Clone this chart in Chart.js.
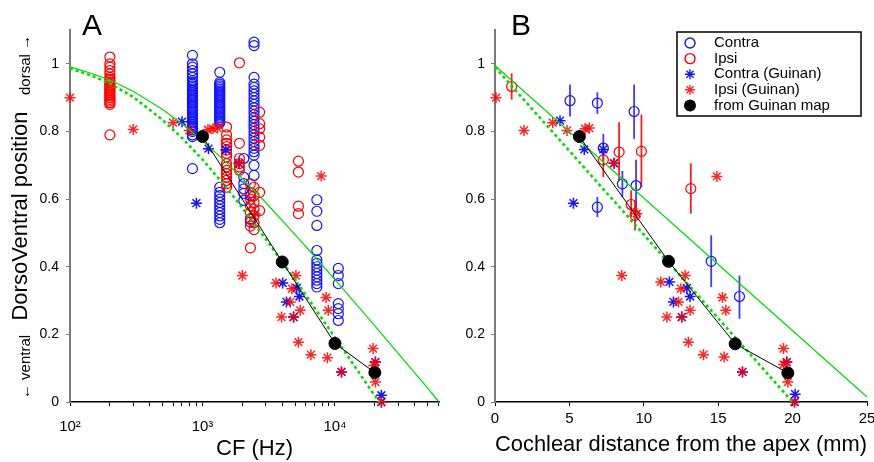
<!DOCTYPE html>
<html>
<head>
<meta charset="utf-8">
<script src="https://cdn.jsdelivr.net/npm/chart.js@4"></script>
<style>
  html, body { margin: 0; padding: 0; background: #fff; }
  #wrap { position: relative; width: 874px; height: 462px; }
  #chartA { position: absolute; left: 0; top: 0; }
  #chartB { position: absolute; left: 446px; top: 0; }
</style>
</head>
<body>
<div id="wrap">
  <canvas id="chartA" width="446" height="462"></canvas>
  <canvas id="chartB" width="428" height="462"></canvas>
</div>
<script>
const FONT = '"Liberation Sans", Arial, Helvetica, sans-serif';
const BLUE = 'rgb(20, 20, 255)';
const RED = 'rgb(255, 0, 0)';
const GREEN = 'rgb(0, 220, 0)';

// ---------- Panel A : position vs CF (Hz) ----------
// columns of single units: one CF per column, list of positions
const contraColCF = [840, 1350, 1350, 2050, 2300, 2450, 7300, 10600];
const contraColPos = [
  [1.025, 1.0, 0.99, 0.98, 0.97, 0.96, 0.95, 0.945, 0.94, 0.935, 0.93, 0.925, 0.92, 0.915, 0.91, 0.905, 0.90, 0.895, 0.89, 0.885, 0.88, 0.875, 0.87, 0.865, 0.86, 0.855, 0.85, 0.845, 0.84, 0.835, 0.83, 0.825, 0.82, 0.815, 0.81, 0.805, 0.80, 0.79, 0.785, 0.69],
  [0.975, 0.945, 0.94, 0.935, 0.93, 0.925, 0.92, 0.915, 0.91, 0.905, 0.90, 0.895, 0.89, 0.885, 0.88, 0.875, 0.87, 0.865, 0.86, 0.855, 0.85, 0.845, 0.84, 0.835, 0.83, 0.825],
  [0.635, 0.62, 0.61, 0.60, 0.59, 0.58, 0.57, 0.56, 0.55, 0.54, 0.53],
  [0.72, 0.665, 0.646, 0.63, 0.617, 0.596],
  [0.61, 0.542, 0.532],
  [1.064, 1.054, 0.96, 0.94, 0.93, 0.92, 0.91, 0.90, 0.89, 0.88, 0.87, 0.86, 0.85, 0.84, 0.83, 0.82, 0.81, 0.80, 0.79, 0.78, 0.77, 0.76, 0.75, 0.74, 0.73, 0.70, 0.67],
  [0.598, 0.564, 0.522, 0.448, 0.42, 0.41, 0.40, 0.39, 0.38, 0.37, 0.36, 0.35, 0.34],
  [0.395, 0.374, 0.35, 0.291, 0.276, 0.261, 0.241]
];
const ipsiColCF = [200, 1520, 1900, 2300, 2450, 2700, 5300];
const ipsiColPos = [
  [1.02, 1.0, 0.99, 0.98, 0.97, 0.96, 0.955, 0.95, 0.945, 0.94, 0.935, 0.93, 0.925, 0.92, 0.915, 0.91, 0.905, 0.90, 0.895, 0.89, 0.885, 0.88, 0.79],
  [0.813, 0.79, 0.775, 0.765, 0.755, 0.745, 0.735, 0.725, 0.705, 0.695, 0.685, 0.675, 0.665, 0.655, 0.645, 0.635],
  [1.003, 0.765, 0.72, 0.705, 0.695, 0.685],
  [0.645, 0.62, 0.60, 0.58, 0.56, 0.54, 0.52, 0.456],
  [0.635, 0.61, 0.59, 0.57, 0.55, 0.53, 0.51],
  [0.857, 0.823, 0.808, 0.783, 0.759, 0.62, 0.566],
  [0.712, 0.68, 0.579, 0.557]
];

// Guinan data (asterisks)
const gIpsiCF  = [100, 300, 600, 795, 1100, 1200, 1300, 1885, 2000, 2500, 3590, 3950, 4730, 4600, 4870, 5070, 5470, 5300, 6580, 7870, 8570, 8900, 8770, 11200, 19400, 20200, 19600, 20200, 22400];
const gIpsiPos = [0.90, 0.806, 0.826, 0.803, 0.805, 0.808, 0.81, 0.706, 0.374, 0.557, 0.352, 0.251, 0.335, 0.296, 0.251, 0.374, 0.271, 0.177, 0.140, 0.668, 0.309, 0.271, 0.131, 0.089, 0.158, 0.118, 0.108, 0.059, 0.0];
const gContraCF  = [700, 900, 1110, 1500, 1885, 4030, 4300, 5150, 5390, 4870, 11200, 20200, 22400, 22400];
const gContraPos = [0.829, 0.588, 0.749, 0.746, 0.706, 0.352, 0.296, 0.337, 0.312, 0.251, 0.089, 0.118, 0.020, 0.0];

// from Guinan map
const mapCF  = [1000, 4000, 10000, 20000];
const mapPos = [0.785, 0.414, 0.173, 0.087];

// green reference curves
const fitCF   = [100, 150, 200, 300, 500, 700, 1000, 1500, 2000, 3000, 5000, 7000, 10000, 15000, 20000, 30000, 40000, 50000, 61000];
const fitPos  = [0.991, 0.970, 0.952, 0.919, 0.865, 0.823, 0.773, 0.710, 0.661, 0.590, 0.495, 0.431, 0.362, 0.282, 0.225, 0.144, 0.086, 0.042, 0.0];
const fit2CF  = [100, 150, 200, 300, 500, 700, 1000, 1500, 2000, 3000, 5000, 7000, 10000, 15000, 20000, 21800];
const fit2Pos = [0.987, 0.963, 0.942, 0.902, 0.834, 0.781, 0.717, 0.636, 0.574, 0.482, 0.361, 0.279, 0.191, 0.090, 0.018, 0.0];

// ---------- Panel B : position vs cochlear distance (mm) ----------
const contraDist = [5.04, 6.88, 9.35, 7.28, 8.56, 9.48, 6.88, 14.53, 16.43];
const contraMean = [0.891, 0.884, 0.859, 0.751, 0.645, 0.640, 0.576, 0.416, 0.312];
const contraLo   = [0.844, 0.852, 0.778, 0.714, 0.606, 0.560, 0.547, 0.340, 0.246];
const contraHi   = [0.939, 0.916, 0.939, 0.793, 0.683, 0.716, 0.606, 0.493, 0.374];

const ipsiDist = [1.12, 7.28, 8.34, 9.84, 9.15, 9.41, 13.16];
const ipsiMean = [0.933, 0.716, 0.739, 0.741, 0.584, 0.552, 0.631];
const ipsiLo   = [0.894, 0.665, 0.655, 0.635, 0.547, 0.507, 0.557];
const ipsiHi   = [0.972, 0.745, 0.827, 0.850, 0.626, 0.596, 0.706];

const gIpsiDist = [0.07, 1.95, 3.88, 4.84, 6.05, 6.34, 8.0, 9.53, 14.91, 8.52, 11.14, 12.78, 12.49, 12.33, 13.11, 11.55, 12.55, 13.0, 14.01, 15.4, 15.29, 15.51, 16.63, 19.39, 19.39, 19.61, 19.68, 20.13];
const gIpsiPosB = [0.90, 0.803, 0.826, 0.803, 0.808, 0.81, 0.706, 0.557, 0.667, 0.374, 0.355, 0.374, 0.335, 0.296, 0.271, 0.251, 0.251, 0.177, 0.140, 0.133, 0.309, 0.271, 0.089, 0.158, 0.111, 0.118, 0.059, 0.0];
const gContraDist = [4.37, 5.27, 6.0, 7.28, 8.0, 11.72, 11.99, 12.89, 13.11, 12.55, 16.63, 19.61, 20.17, 20.13];
const gContraPosB = [0.832, 0.588, 0.747, 0.747, 0.706, 0.355, 0.296, 0.337, 0.312, 0.251, 0.089, 0.118, 0.023, 0.0];

const mapDist = [5.67, 11.66, 16.14, 19.68];
const mapPosB = [0.785, 0.416, 0.172, 0.086];

const fitDist  = [0, 25];
const fitPosB  = [0.995, 0.015];
const fit2Dist = [0, 20];
const fit2PosB = [0.99, 0.0];

const yTicks = [0, 0.2, 0.4, 0.6, 0.8, 1];

// ---------- helpers ----------
function columns(xs, cols) {
  const pts = [];
  cols.forEach((vals, i) => vals.forEach(v => pts.push({x: xs[i], y: v})));
  return pts;
}
function pairs(xs, ys) {
  return xs.map((x, i) => ({x: x, y: ys[i]}));
}
function circles(label, color, data, order) {
  return {label, data, order, clip: false, showLine: false,
    pointStyle: 'circle', pointRadius: 5, pointBorderWidth: 1.2,
    pointBorderColor: color, pointBackgroundColor: 'rgba(0,0,0,0)', legendSym: 'circle', legendColor: color};
}
function stars(label, color, data, order) {
  return {label, data, order, clip: false, showLine: false,
    pointStyle: 'star', pointRadius: 5.5, pointBorderWidth: 1.5,
    pointBorderColor: color, pointBackgroundColor: color, legendSym: 'star', legendColor: color};
}
function mapDots(data) {
  return {label: 'from Guinan map', data, order: 0, clip: false, showLine: true,
    borderColor: '#000', borderWidth: 1, pointStyle: 'circle', pointRadius: 6,
    pointBackgroundColor: '#000', pointBorderColor: '#000', legendSym: 'dot', legendColor: '#000'};
}
function curve(data, dashed, order) {
  return {data, order, clip: false, showLine: true, pointRadius: 0,
    borderColor: GREEN, borderWidth: dashed ? 2.6 : 1.2, borderDash: dashed ? [3, 3] : []};
}
function posLabel(v) {
  const k = Math.round(v * 10) / 10;
  return yTicks.some(t => Math.abs(t - v) < 1e-6) ? String(k) : null;
}
const sup = {2: '\u00b2', 3: '\u00b3', 4: '\u2074'};
function cfLabel(v) {
  const e = Math.log10(v);
  const r = Math.round(e);
  if (Math.abs(e - r) < 1e-9) return '10' + (sup[r] || r);
  const m = v / Math.pow(10, Math.floor(e));
  return Math.abs(m - Math.round(m)) < 1e-9 ? '' : null;
}
function fixX(s) {
  s.height = 60;
  s.paddingLeft = 0;
  s.paddingRight = 0;
}

function yScale(width, withTitle) {
  return {
    min: 0, max: 1.1,
    border: {color: '#7a7a7a', width: 2},
    grid: {drawOnChartArea: false, tickLength: 4, color: '#7a7a7a'},
    ticks: {stepSize: 0.2, padding: withTitle ? 7 : 6, color: '#000',
      font: {family: FONT, size: 14}, callback: posLabel, autoSkip: false},
    title: {display: withTitle, text: 'DorsoVentral position', color: '#000',
      font: {family: FONT, size: 22}, padding: {top: 8, bottom: 0}},
    afterFit: s => { s.width = width; s.paddingTop = 0; s.paddingBottom = 0; }
  };
}

// panel letter and side notes
const annotate = {
  id: 'annotate',
  afterDraw(chart, args, opts) {
    const ctx = chart.ctx;
    ctx.save();
    ctx.fillStyle = '#000';
    ctx.font = '30px ' + FONT;
    ctx.textAlign = 'left';
    ctx.textBaseline = 'alphabetic';
    ctx.fillText(opts.letter, opts.letterX, 35);
    if (opts.sides) {
      ctx.font = '15px ' + FONT;
      ctx.textAlign = 'center';
      [['dorsal \u2192', 65], ['\u2190 ventral', 367]].forEach(([t, y]) => {
        ctx.save();
        ctx.translate(30, y);
        ctx.rotate(-Math.PI / 2);
        ctx.fillText(t, 0, 0);
        ctx.restore();
      });
    }
    ctx.restore();
  }
};

const errorBars = {
  id: 'errorBars',
  beforeDatasetsDraw(chart) {
    const {ctx, scales: {x, y}} = chart;
    chart.data.datasets.forEach(ds => {
      if (!ds.errLo) return;
      ctx.save();
      ctx.strokeStyle = ds.errColor;
      ctx.lineWidth = 1.8;
      ds.data.forEach((p, i) => {
        const px = x.getPixelForValue(p.x);
        ctx.beginPath();
        ctx.moveTo(px, y.getPixelForValue(ds.errLo[i]));
        ctx.lineTo(px, y.getPixelForValue(ds.errHi[i]));
        ctx.stroke();
      });
      ctx.restore();
    });
  }
};

const boxLegend = {
  id: 'boxLegend',
  afterDraw(chart) {
    const ctx = chart.ctx;
    const area = chart.chartArea;
    const w = 184, h = 84;
    const left = area.right - 6 - w, top = area.top + 2;
    ctx.save();
    ctx.fillStyle = '#fff';
    ctx.fillRect(left, top, w, h);
    ctx.strokeStyle = '#000';
    ctx.lineWidth = 1.5;
    ctx.strokeRect(left, top, w, h);
    const items = chart.data.datasets.filter(d => d.legendSym)
      .sort((a, b) => a.legendRank - b.legendRank);
    items.forEach((d, i) => {
      const cy = top + 11 + i * 15.6;
      const cx = left + 13;
      ctx.strokeStyle = d.legendColor;
      ctx.fillStyle = d.legendColor;
      ctx.lineWidth = 1.4;
      ctx.beginPath();
      if (d.legendSym === 'circle') {
        ctx.arc(cx, cy, 5, 0, Math.PI * 2);
        ctx.stroke();
      } else if (d.legendSym === 'dot') {
        ctx.arc(cx, cy, 6, 0, Math.PI * 2);
        ctx.fill();
      } else {
        for (let k = 0; k < 4; k++) {
          const a = k * Math.PI / 4;
          ctx.moveTo(cx - 5 * Math.cos(a), cy - 5 * Math.sin(a));
          ctx.lineTo(cx + 5 * Math.cos(a), cy + 5 * Math.sin(a));
        }
        ctx.stroke();
      }
      ctx.fillStyle = '#000';
      ctx.font = '15px ' + FONT;
      ctx.textAlign = 'left';
      ctx.textBaseline = 'middle';
      ctx.fillText(d.label, left + 37, cy);
    });
    ctx.restore();
  }
};

const common = {
  responsive: false,
  animation: false,
  events: [],
  plugins: {legend: {display: false}, tooltip: {enabled: false}}
};

// ---------- chart A ----------
const dsA = [
  mapDots(pairs(mapCF, mapPos)),
  curve(pairs(fitCF, fitPos), false, 1),
  curve(pairs(fit2CF, fit2Pos), true, 2),
  stars('Ipsi (Guinan)', 'rgba(255,0,0,0.85)', pairs(gIpsiCF, gIpsiPos), 3),
  stars('Contra (Guinan)', BLUE, pairs(gContraCF, gContraPos), 4),
  circles('Ipsi', RED, columns(ipsiColCF, ipsiColPos), 5),
  circles('Contra', BLUE, columns(contraColCF, contraColPos), 6)
];

new Chart(document.getElementById('chartA'), {
  type: 'scatter',
  data: {datasets: dsA},
  options: Object.assign({}, common, {
    layout: {padding: {left: 0, top: 30, right: 4, bottom: 0}},
    plugins: Object.assign({}, common.plugins, {annotate: {letter: 'A', letterX: 82, sides: true}}),
    scales: {
      x: {
        type: 'logarithmic', min: 100, max: 61000,
        border: {color: '#000', width: 1.5},
        grid: {drawOnChartArea: false, tickLength: 4, color: '#000'},
        ticks: {autoSkip: false, maxRotation: 0, padding: 12, color: '#000',
          font: {family: FONT, size: 15}, callback: cfLabel},
        title: {display: true, text: 'CF (Hz)', color: '#000',
          font: {family: FONT, size: 22}, padding: {top: 0, bottom: 0}},
        afterFit: fixX
      },
      y: yScale(70, true)
    }
  }),
  plugins: [annotate]
});

// ---------- chart B ----------
const contraB = circles('Contra', BLUE, pairs(contraDist, contraMean), 5);
contraB.errLo = contraLo; contraB.errHi = contraHi; contraB.errColor = 'rgb(60,60,255)';
contraB.legendRank = 0;
const ipsiB = circles('Ipsi', RED, pairs(ipsiDist, ipsiMean), 6);
ipsiB.errLo = ipsiLo; ipsiB.errHi = ipsiHi; ipsiB.errColor = 'rgb(255,30,30)';
ipsiB.legendRank = 1;
const gContraB = stars('Contra (Guinan)', BLUE, pairs(gContraDist, gContraPosB), 4);
gContraB.legendRank = 2;
const gIpsiB = stars('Ipsi (Guinan)', 'rgba(255,0,0,0.85)', pairs(gIpsiDist, gIpsiPosB), 3);
gIpsiB.legendRank = 3;
const mapB = mapDots(pairs(mapDist, mapPosB));
mapB.legendRank = 4;

new Chart(document.getElementById('chartB'), {
  type: 'scatter',
  data: {datasets: [
    mapB,
    curve(pairs(fitDist, fitPosB), false, 1),
    curve(pairs(fit2Dist, fit2PosB), true, 2),
    gIpsiB, gContraB, contraB, ipsiB
  ]},
  options: Object.assign({}, common, {
    layout: {padding: {left: 0, top: 30, right: 7, bottom: 0}},
    plugins: Object.assign({}, common.plugins, {annotate: {letter: 'B', letterX: 65, sides: false}}),
    scales: {
      x: {
        type: 'linear', min: 0, max: 25,
        border: {color: '#000', width: 1.5},
        grid: {drawOnChartArea: false, tickLength: 4, color: '#000'},
        ticks: {stepSize: 5, padding: 4, color: '#000', font: {family: FONT, size: 15}},
        title: {display: true, text: 'Cochlear distance from the apex (mm)', color: '#000',
          font: {family: FONT, size: 22}, padding: {top: 0, bottom: 4}},
        afterFit: fixX
      },
      y: yScale(49, false)
    }
  }),
  plugins: [errorBars, annotate, boxLegend]
});
</script>
</body>
</html>
